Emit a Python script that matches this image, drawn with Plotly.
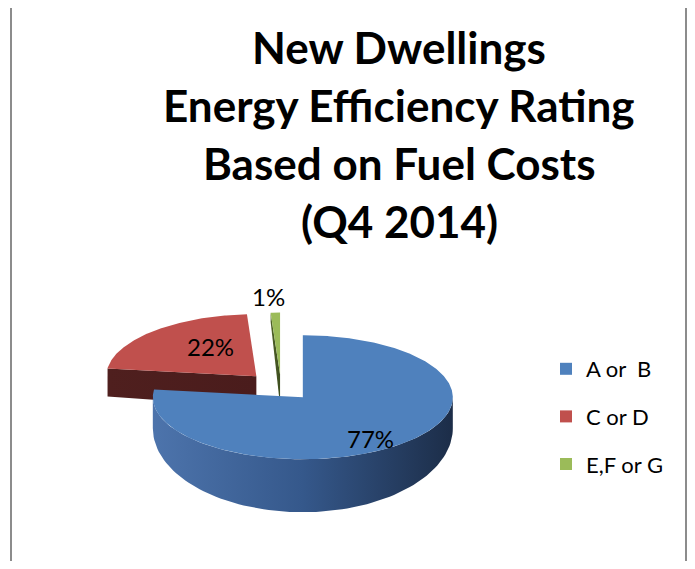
import numpy as np
import plotly.graph_objects as go

# chart data
bands = ["A or\u00a0 B", "C or D", "E,F or G"]
shares = [77, 22, 1]
title_lines = ["New Dwellings", "Energy Efficiency Rating", "Based on Fuel Costs", "(Q4 2014)"]

# styling
top_colors = ["#4F81BD", "#C0504D", "#9BBB59"]
side_scales = [
    [[0, "#4D74AC"], [0.5, "#35588B"], [1, "#1C2D48"]],
    [[0, "#4F1F1E"], [1, "#4A1C1C"]],
    [[0, "#4F6228"], [1, "#3E4E1F"]],
]
pulls = [0.22, 0.24, 0.2]
label_xy = [(370, 438), (210, 346), (268, 296)]
draw_order = [1, 2, 0]

# figure sized so the page (with its 8px body margin) fits the window
OFF = 8
W, H = 695 - 2 * OFF, 569 - 2 * OFF
cx, cy, rx, ry = 281, 387, 150, 62
d0, ry_b = 31, 84  # side thickness at the rim ends, bottom ellipse half-height

fracs = np.array(shares, dtype=float) / sum(shares)
ends = np.cumsum(fracs) * 360
starts = ends - fracs * 360


def top_pt(a, r, ox, oy):
    a = np.radians(a)
    return cx + ox + rx * r * np.sin(a), cy + oy - ry * r * np.cos(a)


def bot_pt(a, r, ox, oy):
    a = np.radians(a)
    return cx + ox + rx * r * np.sin(a), cy + oy + d0 - ry_b * r * np.cos(a)


fig = go.Figure()


def poly(xs, ys, fillcolor=None, scale=None):
    kw = dict(x=list(xs) + [xs[0]], y=list(ys) + [ys[0]], mode="lines", fill="toself",
              line=dict(width=0), hoverinfo="skip", showlegend=False)
    if scale is not None:
        kw["fillgradient"] = dict(type="horizontal", colorscale=scale)
    else:
        kw["fillcolor"] = fillcolor
    fig.add_trace(go.Scatter(**kw))


def wall(a, ox, oy, scale):
    x0, y0 = top_pt(a, 0, ox, oy)
    x1, y1 = top_pt(a, 1, ox, oy)
    x2, y2 = bot_pt(a, 1, ox, oy)
    x3, y3 = bot_pt(a, 0, ox, oy)
    poly([x0, x1, x2, x3], [y0, y1, y2, y3], scale=scale)


for i in draw_order:
    a0, a1 = starts[i], ends[i]
    m = np.radians((a0 + a1) / 2)
    ox = pulls[i] * rx * np.sin(m)
    oy = -pulls[i] * ry * np.cos(m)

    # cut faces that turn towards the viewer
    if np.sin(np.radians(a0)) < -1e-6:
        wall(a0, ox, oy, side_scales[i])
    if np.sin(np.radians(a1)) > 1e-6:
        wall(a1, ox, oy, side_scales[i])

    # outer curved side, front half only
    s, e = max(a0, 90), min(a1, 270)
    if e > s:
        t = np.linspace(s, e, 90)
        xt, yt = top_pt(t, 1, ox, oy)
        xb, yb = bot_pt(t, 1, ox, oy)
        poly(np.concatenate([xt, xb[::-1]]), np.concatenate([yt, yb[::-1]]),
             scale=side_scales[i])

    # top face
    t = np.linspace(a0, a1, max(int((a1 - a0) * 2), 4))
    xs, ys = top_pt(t, 1, ox, oy)
    ax_, ay_ = top_pt(0, 0, ox, oy)
    poly(np.concatenate([[ax_], xs]), np.concatenate([[ay_], ys]), fillcolor=top_colors[i])

# legend entries
for i, name in enumerate(bands):
    fig.add_trace(go.Scatter(x=[None], y=[None], mode="markers", name=name,
                             legendgroup=str(i),
                             marker=dict(symbol="square", size=12, color=top_colors[i])))

annotations = []
for i, s in enumerate(shares):
    annotations.append(dict(x=label_xy[i][0], y=label_xy[i][1], xref="x", yref="y",
                            text=f"{s}%", showarrow=False,
                            font=dict(family="Lato", size=24, color="#000000")))
for k, line in enumerate(title_lines):
    annotations.append(dict(x=399, y=47 + 58 * k, xref="x", yref="y", text=f"<b>{line}</b>",
                            showarrow=False, yanchor="middle",
                            font=dict(family="Lato", size=44, color="#000000")))

# chart-area frame, right edge clamped to the figure
frame = dict(type="rect", xref="paper", yref="paper",
             x0=(11 - OFF) / W, x1=min(692 - OFF, W - 1) / W, y0=1.05, y1=-0.05,
             line=dict(color="#8C8C8C", width=2))

fig.update_layout(
    width=W, height=H,
    margin=dict(l=0, r=0, t=0, b=0),
    paper_bgcolor="white", plot_bgcolor="white",
    xaxis=dict(range=[OFF, W + OFF], visible=False, fixedrange=True),
    yaxis=dict(range=[H + OFF, OFF], visible=False, fixedrange=True),
    annotations=annotations,
    showlegend=True,
    legend=dict(x=(546 - OFF) / W, y=1 - (348 - OFF) / H, xanchor="left", yanchor="top",
                font=dict(family="Lato", size=22, color="#000000"),
                tracegroupgap=16, bgcolor="rgba(0,0,0,0)"),
    shapes=[frame],
)

fig.write_html("out.html")
